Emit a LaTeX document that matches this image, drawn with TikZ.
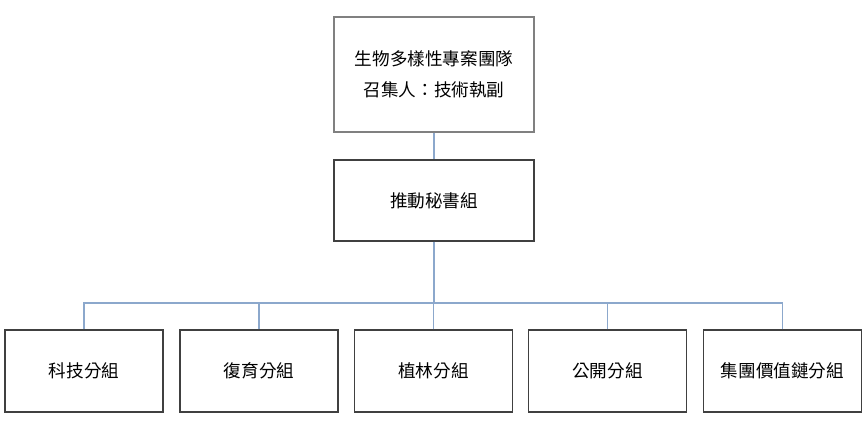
\documentclass[tikz,border=0pt]{standalone}
\usepackage{fontspec}
\newfontfamily\cjk{Noto Sans CJK TC}
\definecolor{linkblue}{RGB}{140,168,204}
\begin{document}
\begin{tikzpicture}[x=0.75pt,y=-0.75pt,
  orgbox/.style={draw=#1,line width=0.9pt,fill=white,inner sep=0pt,align=center,font=\cjk\fontsize{13.2pt}{23pt}\selectfont},
  orgbox/.default={black!75},
  link/.style={draw=linkblue,line width=1pt}]
\useasboundingbox (0,0) rectangle (868,447);
\node[orgbox=black!50,minimum width=150pt,minimum height=86.25pt] (top) at (434,74.5) {生物多樣性專案團隊\\召集人：技術執副};
\node[orgbox=black!75,minimum width=150pt,minimum height=60.75pt] (sec) at (434,200.5) {推動秘書組};
\foreach \n/\x/\t in {a/84/科技分組,b/259/復育分組,c/433.5/植林分組,d/607.5/公開分組,e/782.5/集團價值鏈分組}{
  \node[orgbox,minimum width=118.5pt,minimum height=61.5pt] (\n) at (\x,371) {\t};
}
\coordinate (hub) at (434,303);
\draw[link] (top.south) -- (sec.north);
\draw[link] (sec.south) -- (hub);
\draw[link] (a.north) |- (hub);
\draw[link] (e.north) |- (hub);
\draw[link] (b.north) -- (b.north |- hub);
\draw[link] (c.north) -- (c.north |- hub);
\draw[link] (d.north) -- (d.north |- hub);
\end{tikzpicture}
\end{document}
